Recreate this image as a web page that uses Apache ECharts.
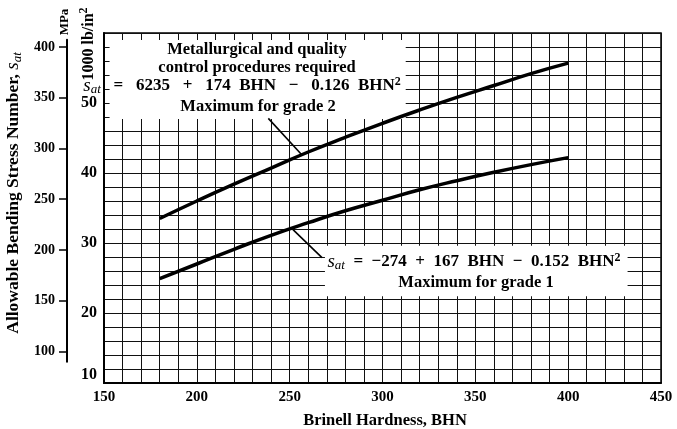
<!DOCTYPE html>
<html><head><meta charset="utf-8">
<script src="https://cdn.jsdelivr.net/npm/echarts@6/dist/echarts.min.js"></script>
<style>html,body{margin:0;padding:0;background:#fff}#c{width:677px;height:429px}</style>
</head><body><div id="c"></div>
<script>
// Data (allowable bending stress, 1000 lb/in^2)
const bhn = [180, 200, 220, 240, 260, 280, 300, 320, 340, 360, 380, 400];
const grade2Ksi = [33.5, 36.0, 38.4, 40.7, 43.0, 45.1, 47.1, 49.0, 50.8, 52.5, 54.2, 55.7];
const grade1Ksi = [24.9, 27.0, 29.1, 31.1, 32.9, 34.6, 36.1, 37.6, 38.9, 40.1, 41.2, 42.2];
const xRange = [150, 450];
const ksiRange = [10, 60];
const ksiTickLabels = [10, 20, 30, 40, 50];
const mpaTickLabels = [100, 150, 200, 250, 300, 350, 400];
const mpaLineRange = [90, 407];
const MPA_PER_KSI = 6.89476;
// annotation boxes and arrows in data coordinates [BHN, ksi]
const boxGrade2 = [[153, 59], [312.5, 47.7]];
const boxGrade1 = [[269, 29.6], [432, 22.4]];
const arrowGrade2 = [[238.5, 47.8], [256.5, 42.6]];
const arrowGrade1 = [[267.4, 27.9], [251.8, 31.9]];

const G = {left: 104, top: 33, right: 16, bottom: 46};
const W = 677, H = 429;
const plotH = H - G.top - G.bottom;
function pyOfMpa(m) { return G.top + (ksiRange[1] - m / MPA_PER_KSI) / (ksiRange[1] - ksiRange[0]) * plotH; }
const mTop = pyOfMpa(mpaLineRange[1]);
const mBot = pyOfMpa(mpaLineRange[0]);

const FF = '"Liberation Serif","Times New Roman",serif';
const axisLab = {color: '#000', fontFamily: FF, fontWeight: 'bold', fontSize: 15};
const gridLine = {color: '#111', width: 1};

const chart = echarts.init(document.getElementById('c'), null, {renderer: 'canvas'});

const richEq = {
  b: {fontFamily: FF, fontWeight: 'bold', fontSize: 17, lineHeight: 21, fill: '#000'},
  s: {fontFamily: FF, fontStyle: 'italic', fontSize: 19, lineHeight: 21, fill: '#000'},
  sub: {fontFamily: FF, fontStyle: 'italic', fontSize: 13, lineHeight: 12, verticalAlign: 'bottom', fill: '#000'},
  sup: {fontFamily: FF, fontWeight: 'bold', fontSize: 12, lineHeight: 12, verticalAlign: 'top', fill: '#000'}
};
function txt(x, y, text, size, extra) {
  return Object.assign({
    type: 'text', x: x, y: y, z: 100,
    style: {text: text, fill: '#000', fontFamily: FF, fontWeight: 'bold', fontSize: size, align: 'center', verticalAlign: 'middle'}
  }, extra || {});
}
function richTxt(x, y, text, extra) {
  return Object.assign({
    type: 'text', x: x, y: y, z: 100,
    style: {text: text, rich: richEq, fill: '#000', fontFamily: FF, fontWeight: 'bold', fontSize: 17, align: 'center', verticalAlign: 'middle'}
  }, extra || {});
}

const option = {
  backgroundColor: '#fff',
  animation: false,
  grid: [
    Object.assign({show: true, borderColor: '#000', borderWidth: 1.5, backgroundColor: 'transparent'}, G),
    {left: 67, width: 1, top: mTop, bottom: H - mBot}
  ],
  xAxis: [
    {
      type: 'value', gridIndex: 0, min: xRange[0], max: xRange[1], interval: 50,
      axisLine: {show: true, lineStyle: {color: '#000', width: 2}},
      axisTick: {show: false},
      axisLabel: Object.assign({margin: 7}, axisLab),
      splitLine: {show: true, lineStyle: gridLine},
      minorTick: {show: false, splitNumber: 5},
      minorSplitLine: {show: true, lineStyle: gridLine}
    },
    {type: 'value', gridIndex: 1, min: 0, max: 1, show: false}
  ],
  yAxis: [
    {
      type: 'value', gridIndex: 0, min: ksiRange[0], max: ksiRange[1], interval: 10,
      axisLine: {show: true, lineStyle: {color: '#000', width: 2}},
      axisTick: {show: false},
      axisLabel: Object.assign({margin: 7, verticalAlignMinLabel: 'bottom',
        formatter: function (v) { return ksiTickLabels.indexOf(v) >= 0 ? String(v) : ''; }}, axisLab, {fontSize: 16}),
      splitLine: {show: true, lineStyle: gridLine},
      minorTick: {show: false, splitNumber: 5},
      minorSplitLine: {show: true, lineStyle: gridLine}
    },
    {
      type: 'value', gridIndex: 1, position: 'left', min: mpaLineRange[0], max: mpaLineRange[1],
      axisLine: {show: true, lineStyle: {color: '#000', width: 2}},
      axisTick: {show: true, length: 8, lineStyle: {color: '#000', width: 1.5}, customValues: mpaTickLabels},
      axisLabel: {margin: 12, color: '#000', fontFamily: FF, fontWeight: 'bold', fontSize: 14, customValues: mpaTickLabels},
      splitLine: {show: false}
    }
  ],
  series: [
    {
      name: 'boxes', type: 'line', xAxisIndex: 0, yAxisIndex: 0, z: 3,
      data: [], symbol: 'none', silent: true,
      markArea: {
        silent: true,
        itemStyle: {color: '#fff', opacity: 1, borderWidth: 0},
        label: {show: false},
        data: [
          [{coord: boxGrade2[0]}, {coord: boxGrade2[1]}],
          [{coord: boxGrade1[0]}, {coord: boxGrade1[1]}]
        ]
      }
    },
    {
      name: 'Maximum for grade 2', type: 'line', xAxisIndex: 0, yAxisIndex: 0, z: 5,
      data: bhn.map((b, i) => [b, grade2Ksi[i]]),
      smooth: true, symbol: 'none',
      lineStyle: {color: '#000', width: 3.5}
    },
    {
      name: 'Maximum for grade 1', type: 'line', xAxisIndex: 0, yAxisIndex: 0, z: 5,
      data: bhn.map((b, i) => [b, grade1Ksi[i]]),
      smooth: true, symbol: 'none',
      lineStyle: {color: '#000', width: 3.5},
      markLine: {
        silent: true, symbol: ['none', 'arrow'], symbolSize: [0, 9],
        label: {show: false},
        lineStyle: {color: '#000', width: 1.6, type: 'solid'},
        data: [
          [{coord: arrowGrade2[0]}, {coord: arrowGrade2[1]}],
          [{coord: arrowGrade1[0]}, {coord: arrowGrade1[1]}]
        ]
      }
    }
  ],
  graphic: [
    txt(257, 50, 'Metallurgical and quality', 16.5),
    txt(257, 68, 'control procedures required', 16.5),
    richTxt(242, 86, '{s|s}{sub|at}{b|   =   6235   +   174  BHN   \u2212   0.126  BHN}{sup|2}'),
    txt(258, 107, 'Maximum for grade 2', 16.5),
    richTxt(474, 262, '{s|s}{sub|at}{b|  =  \u2212274  +  167  BHN  \u2212  0.152  BHN}{sup|2}'),
    txt(476, 283, 'Maximum for grade 1', 16.5),
    txt(385, 421, 'Brinell Hardness, BHN', 16.5),
    txt(65, 22, 'MPa', 13, {rotation: Math.PI / 2}),
    {
      type: 'text', x: 89, y: 44, rotation: Math.PI / 2, z: 100,
      style: {text: '{b|1000 lb/in}{sup|2}', align: 'center', verticalAlign: 'middle',
        rich: {b: {fontFamily: FF, fontWeight: 'bold', fontSize: 16, lineHeight: 22, fill: '#000'},
               sup: {fontFamily: FF, fontWeight: 'bold', fontSize: 12, lineHeight: 12, verticalAlign: 'top', fill: '#000'}}}
    },
    {
      type: 'text', x: 13, y: 193, rotation: Math.PI / 2, z: 100,
      style: {text: '{b|Allowable Bending Stress Number, }{s|s}{sub|at}', align: 'center', verticalAlign: 'middle',
        rich: {b: {fontFamily: FF, fontWeight: 'bold', fontSize: 17.5, lineHeight: 22, fill: '#000'},
               s: {fontFamily: FF, fontStyle: 'italic', fontSize: 19, lineHeight: 22, fill: '#000'},
               sub: {fontFamily: FF, fontStyle: 'italic', fontSize: 13, lineHeight: 13, verticalAlign: 'bottom', fill: '#000'}}}
    }
  ]
};
chart.setOption(option);
</script>
</body></html>
